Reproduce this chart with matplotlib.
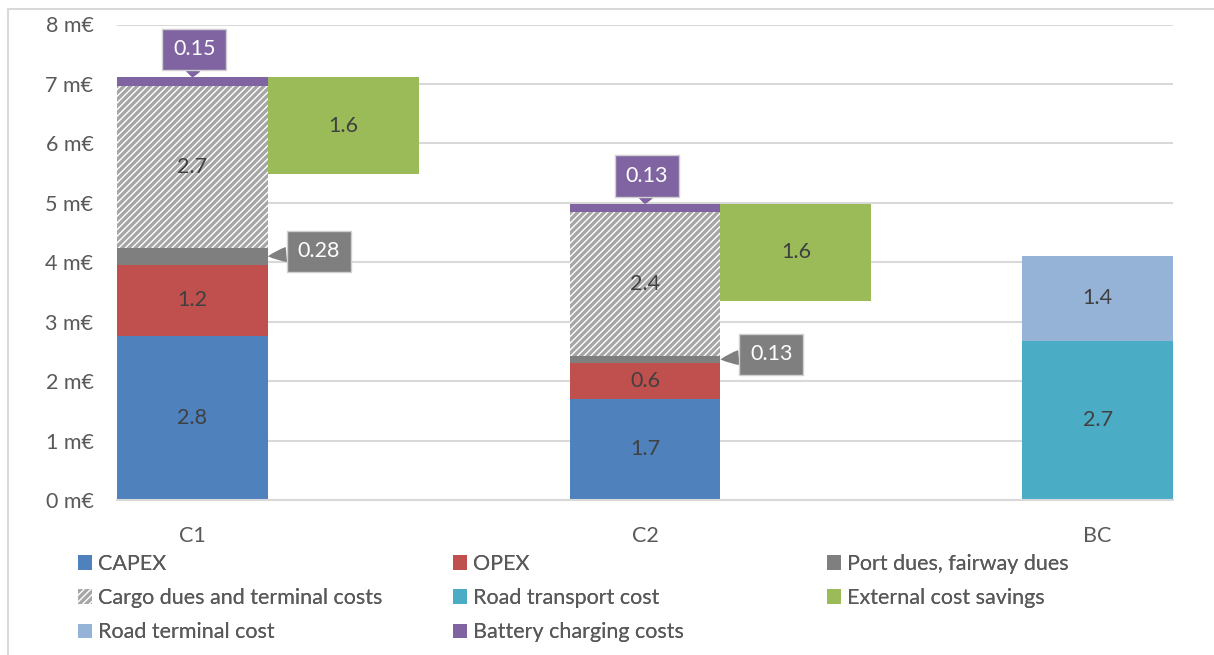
import matplotlib
matplotlib.use("Agg")
import matplotlib.pyplot as plt
from matplotlib.lines import Line2D

plt.rcParams['font.family'] = ['Lato', 'DejaVu Sans']
plt.rcParams['hatch.linewidth'] = 1.0

# ---- data ----
categories = ['C1', 'C2', 'BC']
capex = [2.76, 1.70, 0.0]
opex = [1.20, 0.60, 0.0]
port_dues = [0.28, 0.13, 0.0]
cargo_dues = [2.72, 2.42, 0.0]
battery = [0.15, 0.13, 0.0]
road_transport = [0.0, 0.0, 2.68]
road_terminal = [0.0, 0.0, 1.43]
external_savings = [1.62, 1.63, 0.0]
y_ticks = [0, 1, 2, 3, 4, 5, 6, 7, 8]
y_tick_labels = [f"{v} m€" for v in y_ticks]

# ---- style ----
C_CAPEX = '#4f81bd'
C_OPEX = '#c0504d'
C_PORT = '#7f7f7f'
C_CARGO = '#a6a6a6'
C_ROAD = '#4bacc6'
C_EXT = '#9bbb59'
C_RTERM = '#95b3d7'
C_BATT = '#8064a2'
TXT = '#404040'
TICK = '#595959'
GRID = '#d9d9d9'
FS = 15.5

fig = plt.figure(figsize=(12.14, 6.55), dpi=100)
ax = fig.add_axes([117/1214, 1-500/655, (1173-117)/1214, (500-24.5)/655])

n = len(categories)
xs = [3*i for i in range(n)]
xg = [3*i + 1 for i in range(n)]

stack = [
    ('CAPEX', capex, dict(color=C_CAPEX)),
    ('OPEX', opex, dict(color=C_OPEX)),
    ('Port dues, fairway dues', port_dues, dict(color=C_PORT)),
    ('Cargo dues and terminal costs', cargo_dues,
     dict(facecolor=C_CARGO, edgecolor='white', hatch='/////', linewidth=0)),
    ('Battery charging costs', battery, dict(color=C_BATT)),
    ('Road transport cost', road_transport, dict(color=C_ROAD)),
    ('Road terminal cost', road_terminal, dict(color=C_RTERM)),
]

bottoms = [0.0]*n
containers = {}
tops = {}
for name, vals, style in stack:
    cont = ax.bar(xs, vals, bottom=bottoms, width=1.0, label=name, zorder=2, **style)
    containers[name] = cont
    tops[name] = [b + v for b, v in zip(bottoms, vals)]
    mids = [b + v/2 for b, v in zip(bottoms, vals)]
    if name not in ('Port dues, fairway dues', 'Battery charging costs'):
        for x, v, m in zip(xs, vals, mids):
            if v > 0:
                ax.text(x, m, f"{v:.1f}", ha='center', va='center', fontsize=FS, color=TXT, zorder=4)
    bottoms = [b + v for b, v in zip(bottoms, vals)]

totals = bottoms
ext_base = [t - e if e > 0 else 0 for t, e in zip(totals, external_savings)]
cont = ax.bar(xg, external_savings, bottom=ext_base, width=1.0, color=C_EXT,
              label='External cost savings', zorder=2)
containers['External cost savings'] = cont
for x, v, b in zip(xg, external_savings, ext_base):
    if v > 0:
        ax.text(x, b + v/2, f"{v:.1f}", ha='center', va='center', fontsize=FS, color=TXT, zorder=4)

# callouts
def callout(txt, xy, off, color):
    ax.annotate(txt, xy=xy, xytext=off, textcoords='offset pixels',
                ha='center', va='center', fontsize=FS, color='white', zorder=6,
                bbox=dict(boxstyle='square,pad=0.5', fc=color, ec='#d0d0d0', lw=1),
                arrowprops=dict(arrowstyle='wedge,tail_width=0.7,shrink_factor=0.6',
                                fc=color, ec='none', shrinkA=0, shrinkB=0,
                                relpos=(0.5, 0.5)))

for i, x in enumerate(xs):
    if battery[i] > 0:
        callout(f"{battery[i]:.2f}", (x, tops['Battery charging costs'][i]), (2, 28), C_BATT)
    if port_dues[i] > 0:
        y = tops['Port dues, fairway dues'][i] - port_dues[i]/2
        callout(f"{port_dues[i]:.2f}", (x + 0.5, y), (51, 5), C_PORT)

ax.set_xlim(-0.5, 6.5)
ax.set_ylim(0, 8)
ax.set_yticks(y_ticks)
ax.set_yticklabels(y_tick_labels)
ax.set_xticks(xs)
ax.set_xticklabels(categories)
ax.tick_params(axis='both', length=0, labelsize=FS, colors=TICK)
ax.tick_params(axis='y', pad=17)
ax.tick_params(axis='x', pad=19)
ax.yaxis.grid(True, color=GRID, lw=1.5, zorder=0)
ax.set_axisbelow(True)
for s in ('top', 'right', 'left'):
    ax.spines[s].set_visible(False)
ax.spines['bottom'].set_color(GRID)
ax.spines['bottom'].set_linewidth(1.5)

# legend in three columns
cols = [
    ['CAPEX', 'Cargo dues and terminal costs', 'Road terminal cost'],
    ['OPEX', 'Road transport cost', 'Battery charging costs'],
    ['Port dues, fairway dues', 'External cost savings'],
]
col_x = [78, 453, 827]
for names, cx in zip(cols, col_x):
    leg = fig.legend([containers[nm] for nm in names], names, loc='upper left',
                     bbox_to_anchor=(cx/1214, 1-554/655), frameon=False,
                     fontsize=FS, handlelength=0.65, handleheight=0.65,
                     handletextpad=0.3, labelspacing=0.66, borderpad=0,
                     borderaxespad=0, labelcolor=TICK)
    fig.add_artist(leg)

# outer border
fig.add_artist(Line2D([8/1214, 8/1214, 1.0], [0.0, 1-9/655, 1-9/655],
                      transform=fig.transFigure, color=GRID, lw=1.5))

fig.savefig('out.png', dpi=100, facecolor='white')
